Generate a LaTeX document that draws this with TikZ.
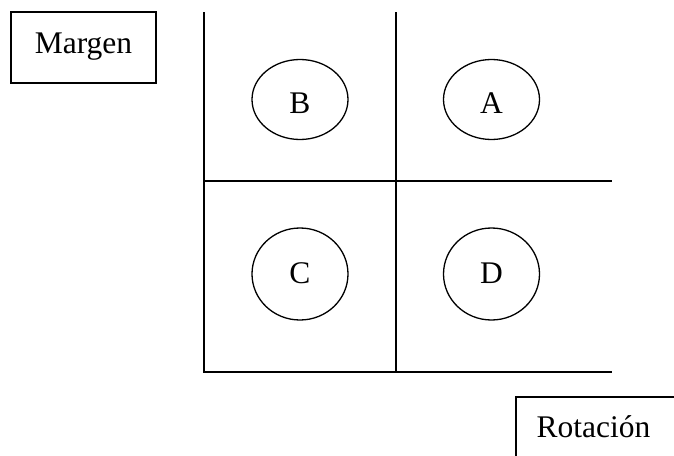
\documentclass[tikz,border=0pt]{standalone}
\usepackage{fontspec}
\setmainfont{Liberation Serif}
\usetikzlibrary{shapes.geometric}
\begin{document}
\begin{tikzpicture}[x=1pt,y=-1pt,
  every node/.style={font=\fontsize{31.5}{36}\selectfont, inner sep=0pt, outer sep=0pt},
  gridline/.style={line width=1.6pt},
  labelbox/.style={draw, line width=1.3pt, rectangle},
  quad/.style={draw, line width=1.3pt, ellipse, minimum width=96pt}
]
\useasboundingbox (0,0) rectangle (674,455);
% label box
\node[labelbox, minimum width=145pt, minimum height=71pt, text height=22pt, text depth=11pt] (margen) at (83.5,47.5) {Margen};
% grid
\coordinate (lt) at (204,12);
\coordinate (lb) at (204,372);
\coordinate (mt) at (396,12);
\coordinate (mb) at (396,372);
\coordinate (hl) at (204,181);
\coordinate (hr) at (612,181);
\coordinate (br) at (612,372);
\draw[gridline] (lt) -- (lb) -- (br);
\draw[gridline] (mt) -- (mb);
\draw[gridline] (hl) -- (hr);
% ellipses
\node[quad, minimum height=80pt, text height=27pt, text depth=0pt] (B) at (300,99.5) {B};
\node[quad, minimum height=80pt, text height=27pt, text depth=0pt] (A) at (491.5,99.5) {A};
\node[quad, minimum height=92pt, text height=21pt, text depth=3pt] (C) at (300,274) {C};
\node[quad, minimum height=92pt, text height=21pt, text depth=3pt] (D) at (491.5,274) {D};
% Rotacion box (cut off)
\coordinate (rtr) at (676,397);
\coordinate (rtl) at (516,397);
\coordinate (rbl) at (516,458);
\draw[line width=1.3pt] (rtr) -- (rtl) -- (rbl);
\node[anchor=base] (rot) at (593.5,437) {Rotación};
\end{tikzpicture}
\end{document}
